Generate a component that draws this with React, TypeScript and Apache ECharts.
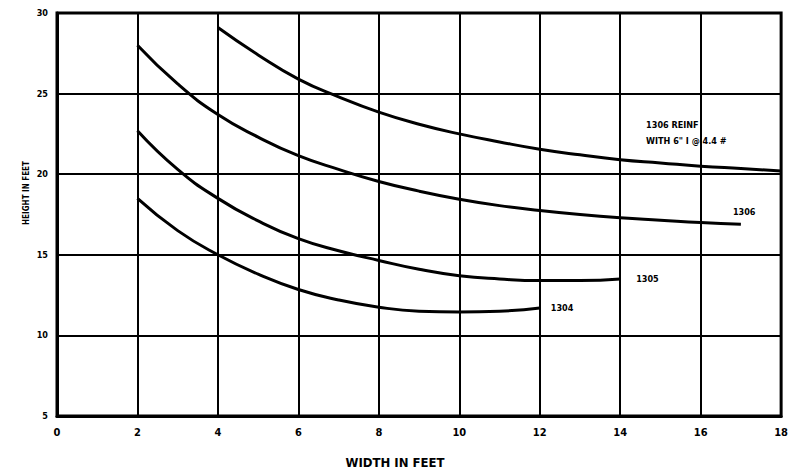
import React, { useEffect, useRef } from "react";
import * as echarts from "echarts";

const xTicks = [0, 2, 4, 6, 8, 10, 12, 14, 16, 18];
const yTicks = [5, 10, 15, 20, 25, 30];

const reinfX = [4, 5, 6, 7, 8, 9, 10, 11, 12, 13, 14, 15, 16, 17, 18];
const reinfY = [29.1, 27.4, 25.9, 24.8, 23.85, 23.1, 22.5, 22.0, 21.55, 21.2, 20.9, 20.7, 20.5, 20.35, 20.2];

const s1306X = [2, 3, 4, 5, 6, 7, 8, 9, 10, 11, 12, 13, 14, 15, 16, 17];
const s1306Y = [28.0, 25.6, 23.7, 22.3, 21.15, 20.3, 19.55, 18.95, 18.45, 18.05, 17.75, 17.5, 17.3, 17.15, 17.0, 16.9];

const s1305X = [2, 3, 4, 5, 6, 7, 8, 9, 10, 11, 12, 13, 14];
const s1305Y = [22.7, 20.3, 18.5, 17.1, 16.0, 15.25, 14.65, 14.1, 13.7, 13.5, 13.4, 13.4, 13.5];

const s1304X = [2, 3, 4, 5, 6, 7, 8, 9, 10, 11, 12];
const s1304Y = [18.5, 16.5, 15.0, 13.8, 12.85, 12.2, 11.75, 11.5, 11.45, 11.5, 11.7];

const FONT = "'Liberation Sans Narrow', 'DejaVu Sans Condensed', 'Liberation Sans', sans-serif";

function pairs(xs: number[], ys: number[]) {
  return xs.map((x, i) => [x, ys[i]]);
}

function makeSeries(name: string, xs: number[], ys: number[], label: string, offset: number[], align: string) {
  return {
    name,
    type: "line",
    data: pairs(xs, ys),
    smooth: 0.5,
    showSymbol: false,
    lineStyle: { color: "#000", width: 3 },
    endLabel: {
      show: true,
      formatter: label,
      offset,
      color: "#000",
      fontFamily: FONT,
      fontWeight: "bold",
      fontSize: 9,
      align,
      lineHeight: 16,
    },
  };
}

export default function App() {
  const ref = useRef<HTMLDivElement>(null);
  useEffect(() => {
    const chart = echarts.init(ref.current!, null, { renderer: "svg" });
    chart.setOption({
      animation: false,
      backgroundColor: "#fff",
      grid: {
        left: 57,
        right: 6,
        top: 13,
        bottom: 60,
        show: true,
        borderColor: "#000",
        borderWidth: 3,
        backgroundColor: "transparent",
      },
      xAxis: {
        type: "value",
        min: xTicks[0],
        max: xTicks[xTicks.length - 1],
        interval: 2,
        name: "WIDTH IN FEET",
        nameLocation: "middle",
        nameGap: 40,
        nameTextStyle: {
          color: "#000",
          fontFamily: FONT,
          fontWeight: "bold",
          fontSize: 13,
          padding: [0, 48, 0, 0],
        },
        axisLine: { show: true, lineStyle: { color: "#000", width: 3 } },
        axisTick: { show: false },
        axisLabel: {
          color: "#000",
          fontFamily: FONT,
          fontWeight: "bold",
          fontSize: 11,
          margin: 11,
        },
        splitLine: { show: true, lineStyle: { color: "#000", width: 2 } },
      },
      yAxis: {
        type: "value",
        min: yTicks[0],
        max: yTicks[yTicks.length - 1],
        interval: 5,
        axisLine: { show: true, lineStyle: { color: "#000", width: 3 } },
        axisTick: { show: false },
        axisLabel: {
          color: "#000",
          fontFamily: FONT,
          fontWeight: "bold",
          fontSize: 9,
          margin: 9,
        },
        splitLine: { show: true, lineStyle: { color: "#000", width: 2 } },
      },
      graphic: [
        {
          type: "text",
          x: 26,
          y: 193,
          rotation: Math.PI / 2,
          style: {
            text: "HEIGHT IN FEET",
            fill: "#000",
            font: "bold 8px " + FONT,
            textAlign: "center",
            textVerticalAlign: "middle",
          },
        },
      ],
      series: [
        makeSeries("1306 REINF", reinfX, reinfY, '1306 REINF\nWITH 6" I @ 4.4 #', [-143, -38], "left"),
        makeSeries("1306", s1306X, s1306Y, "1306", [-16, -12], "left"),
        makeSeries("1305", s1305X, s1305Y, "1305", [8, 0], "left"),
        makeSeries("1304", s1304X, s1304Y, "1304", [3, 0], "left"),
      ],
    });
    return () => chart.dispose();
  }, []);
  return (
    <div
      ref={ref}
      style={{ position: "fixed", left: 0, top: 0, width: 791, height: 476, background: "#fff" }}
    />
  );
}
